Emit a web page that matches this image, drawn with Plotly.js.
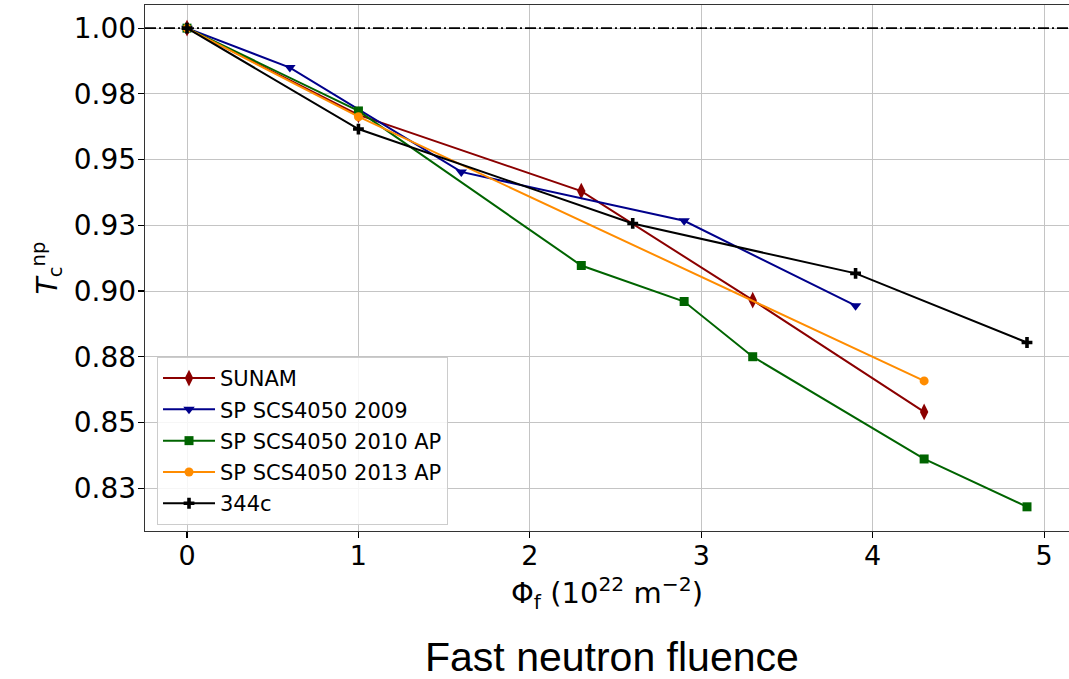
<!DOCTYPE html>
<html>
<head>
<meta charset="utf-8">
<script src="https://cdn.plot.ly/plotly-3.0.1.min.js"></script>
<style>
html,body{margin:0;padding:0;background:#fff;}
#chart{width:1069px;height:679px;}
</style>
</head>
<body>
<div id="chart"></div>
<script>
// ---- data ----
const seriesNames = ["SUNAM", "SP SCS4050 2009", "SP SCS4050 2010 AP", "SP SCS4050 2013 AP", "344c"];

const fluenceSunam = [0, 1, 2.3, 3.3, 4.3];
const tcSunam      = [1.000, 0.967, 0.938, 0.8965, 0.854];

const fluence2009 = [0, 0.6, 1.6, 2.9, 3.9];
const tc2009      = [1.000, 0.985, 0.9453, 0.9267, 0.8944];

const fluence2010 = [0, 1, 2.3, 2.9, 3.3, 4.3, 4.9];
const tc2010      = [1.000, 0.9685, 0.9097, 0.8960, 0.8750, 0.8361, 0.8179];

const fluence2013 = [0, 1, 4.3];
const tc2013      = [1.000, 0.9663, 0.8658];

const fluence344c = [0, 1, 2.6, 3.9, 4.9];
const tc344c      = [1.000, 0.9616, 0.9257, 0.9067, 0.8804];

const referenceLevel = 1.0;

const yTickVals = [0.825, 0.85, 0.875, 0.9, 0.925, 0.95, 0.975, 1.0];
const yTickText = ["0.83", "0.85", "0.88", "0.90", "0.93", "0.95", "0.98", "1.00"];
const xTickVals = [0, 1, 2, 3, 4, 5];
const xTickText = ["0", "1", "2", "3", "4", "5"];

// ---- styles ----
const styles = [
  {color: "#8b0000", symbol: "diamond-tall", size: 12},
  {color: "#00008b", symbol: "triangle-down", size: 10},
  {color: "#006400", symbol: "square", size: 9},
  {color: "#ff8c00", symbol: "circle", size: 9},
  {color: "#000000", symbol: "cross", size: 9}
];
const xs = [fluenceSunam, fluence2009, fluence2010, fluence2013, fluence344c];
const ys = [tcSunam, tc2009, tc2010, tc2013, tc344c];

const traces = seriesNames.map((name, i) => ({
  type: "scatter",
  mode: "lines+markers",
  name: name,
  legendgroup: "g" + i,
  x: xs[i],
  y: ys[i],
  line: {color: styles[i].color, width: 2},
  marker: {color: styles[i].color, symbol: styles[i].symbol, size: styles[i].size, line: {width: 0}}
}));

const font = "DejaVu Sans, Verdana, sans-serif";

const layout = {
  width: 1069,
  height: 679,
  margin: {l: 145, r: 0, t: 5, b: 148, pad: 0},
  paper_bgcolor: "#ffffff",
  plot_bgcolor: "#ffffff",
  showlegend: true,
  font: {family: font, color: "#000000", size: 28},
  xaxis: {
    range: [-0.245, 5.145],
    tickvals: xTickVals,
    ticktext: xTickText,
    ticks: "outside",
    ticklen: 6,
    tickwidth: 1.2,
    tickcolor: "#000",
    ticklabelstandoff: -6,
    tickfont: {family: font, size: 27, color: "#000"},
    showgrid: true,
    gridcolor: "#c4c4c4",
    gridwidth: 1,
    zeroline: false,
    showline: true,
    linecolor: "#333",
    linewidth: 1.3,
    mirror: true,
    title: {text: "Φ<sub>f</sub> (10<sup>22</sup> m<sup>−2</sup>)", font: {family: font, size: 29, color: "#000"}, standoff: 13}
  },
  yaxis: {
    range: [0.8087, 1.0088],
    tickvals: yTickVals,
    ticktext: yTickText,
    ticks: "outside",
    ticklen: 6,
    tickwidth: 1.2,
    tickcolor: "#000",
    ticklabelstandoff: -4,
    tickfont: {family: font, size: 28, color: "#000"},
    showgrid: true,
    gridcolor: "#c4c4c4",
    gridwidth: 1,
    zeroline: false,
    showline: true,
    linecolor: "#333",
    linewidth: 1.3,
    mirror: true,
    title: {text: "<i>T</i><sub>c</sub><sup>np</sup>", font: {family: font, size: 28, color: "#000"}, standoff: 8}
  },
  legend: {
    x: 0.013, y: 0.331,
    xanchor: "left", yanchor: "top",
    bgcolor: "rgba(255,255,255,0.85)",
    bordercolor: "#cccccc",
    borderwidth: 1,
    font: {family: font, size: 21, color: "#000"},
    itemwidth: 52,
    tracegroupgap: 1
  },
  shapes: [{
    type: "line", xref: "paper", x0: 0, x1: 1, yref: "y", y0: referenceLevel, y1: referenceLevel,
    line: {color: "#000", width: 1.7, dash: "11px,3px,2px,3px"}, layer: "above"
  }],
  annotations: [{
    text: "Fast neutron fluence",
    xref: "paper", yref: "paper", x: 0.505, y: 0, yshift: -101,
    xanchor: "center", yanchor: "top", showarrow: false,
    font: {family: "Liberation Sans, Arial, sans-serif", size: 41, color: "#000"}
  }]
};

Plotly.newPlot("chart", traces, layout, {displayModeBar: false, staticPlot: true});
</script>
</body>
</html>
